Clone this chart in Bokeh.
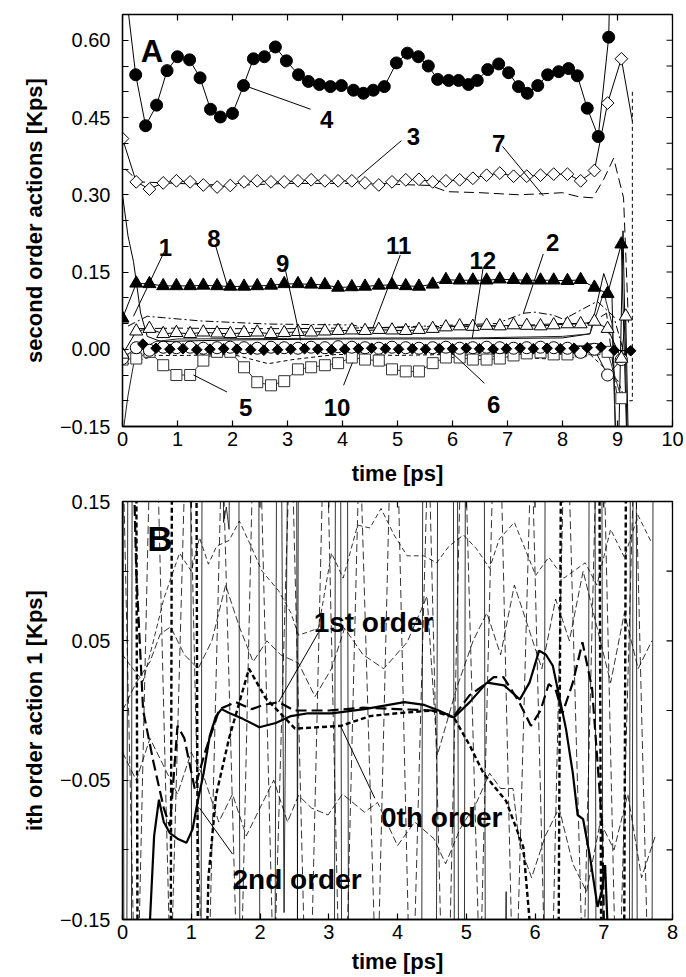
import numpy as np
from bokeh.plotting import figure
from bokeh.layouts import column
from bokeh.models import FixedTicker, CustomJSTickFormatter, Range1d
from bokeh.embed import file_html
from bokeh.resources import INLINE
from bokeh.core.properties import value

FONT = "Liberation Sans"

# ---------------- Panel A data ----------------
tA = [0.00, 0.25, 0.49, 0.74, 0.98, 1.23, 1.47, 1.72, 1.96, 2.21, 2.45, 2.70, 2.94,
      3.19, 3.43, 3.68, 3.92, 4.17, 4.41, 4.66, 4.90, 5.15, 5.39, 5.64, 5.88, 6.13,
      6.37, 6.62, 6.86, 7.11, 7.35, 7.60, 7.84, 8.09, 8.33, 8.58, 8.82, 9.07]

# series 4 (filled circles); first two and last entries are the off-scale line ends
s4_x = [0.00, 0.10, 0.24, 0.42, 0.62, 0.81, 1.00, 1.22, 1.41, 1.60, 1.78, 2.00, 2.20, 2.38,
        2.58, 2.78, 2.98, 3.20, 3.38, 3.58, 3.78, 3.98, 4.20, 4.38, 4.56, 4.76, 4.98,
        5.18, 5.38, 5.56, 5.73, 5.93, 6.11, 6.29, 6.45, 6.64, 6.84, 7.02, 7.20, 7.36,
        7.55, 7.73, 7.93, 8.11, 8.27, 8.45, 8.65, 8.84, 8.90]
s4_y = [1.20, 0.66, 0.533, 0.434, 0.474, 0.541, 0.568, 0.562, 0.527, 0.466, 0.451, 0.458,
        0.512, 0.564, 0.568, 0.587, 0.560, 0.533, 0.520, 0.514, 0.510, 0.512, 0.503,
        0.497, 0.503, 0.510, 0.556, 0.575, 0.568, 0.550, 0.524, 0.522, 0.522, 0.514,
        0.522, 0.543, 0.554, 0.537, 0.510, 0.497, 0.512, 0.533, 0.539, 0.545, 0.531,
        0.468, 0.413, 0.606, 0.90]

s3_y = [0.409, 0.325, 0.311, 0.323, 0.327, 0.325, 0.319, 0.315, 0.318, 0.325, 0.327,
        0.325, 0.325, 0.327, 0.329, 0.327, 0.327, 0.327, 0.323, 0.319, 0.325, 0.329,
        0.330, 0.325, 0.327, 0.329, 0.332, 0.338, 0.342, 0.336, 0.336, 0.338, 0.340,
        0.340, 0.327, 0.347, 0.478, 0.564]
s3_tail_x = [9.07, 9.27]
s3_tail_y = [0.564, 0.443]

s8_y = [0.060, 0.128, 0.127, 0.123, 0.123, 0.123, 0.124, 0.123, 0.122, 0.122, 0.123,
        0.124, 0.127, 0.127, 0.126, 0.125, 0.120, 0.121, 0.122, 0.124, 0.125, 0.123,
        0.122, 0.126, 0.135, 0.134, 0.134, 0.134, 0.136, 0.135, 0.134, 0.134, 0.134,
        0.133, 0.135, 0.120, 0.108, 0.204]
s8_tail_x = [9.07, 9.20]
s8_tail_y = [0.204, -0.30]

s9_y = [-0.010, 0.035, 0.040, 0.030, 0.032, 0.030, 0.033, 0.031, 0.030, 0.032, 0.033,
        0.030, 0.032, 0.034, 0.033, 0.035, 0.036, 0.037, 0.036, 0.038, 0.037, 0.036,
        0.038, 0.040, 0.043, 0.045, 0.044, 0.046, 0.045, 0.047, 0.046, 0.045, 0.047,
        0.049, 0.049, 0.054, 0.040, -0.018]
s9_tail_x = [9.07, 9.15, 9.22]
s9_tail_y = [-0.018, 0.064, -0.30]

sc_y = [-0.018, 0.003, -0.002, 0.004, 0.003, 0.004, 0.002, 0.003, 0.004, 0.003, 0.002,
        0.004, 0.003, 0.002, 0.004, 0.003, 0.005, 0.004, 0.003, 0.002, 0.004, 0.003,
        0.002, 0.003, 0.004, 0.002, 0.003, 0.004, 0.003, 0.002, 0.003, 0.004, 0.003,
        0.002, -0.006, 0.000, -0.050, -0.020]

s5_y = [-0.020, -0.018, -0.005, -0.031, -0.050, -0.050, -0.022, -0.005, -0.005, -0.035,
        -0.064, -0.070, -0.062, -0.039, -0.035, -0.031, -0.027, -0.016, -0.020, -0.022,
        -0.039, -0.043, -0.043, -0.027, -0.016, -0.016, -0.020, -0.020, -0.018, -0.012,
        -0.008, -0.006, -0.010, -0.010, -0.004, 0.000, -0.005, -0.095]

s6_x = [0.37, 0.61, 0.86, 1.10, 1.35, 1.59, 1.84, 2.08, 2.33, 2.57, 2.82, 3.06, 3.31,
        3.55, 3.80, 4.04, 4.29, 4.53, 4.78, 5.02, 5.27, 5.51, 5.76, 6.00, 6.25, 6.49,
        6.74, 6.98, 7.23, 7.47, 7.72, 7.96, 8.21, 8.45, 8.70, 8.94, 9.24]
s6_y = [0.010, 0.002, 0.000, 0.001, -0.001, 0.000, 0.001, 0.000, -0.001, -0.002, -0.001,
        0.000, 0.001, 0.000, -0.001, 0.000, 0.001, 0.002, 0.001, 0.000, 0.001, 0.000,
        0.001, 0.001, 0.002, 0.001, 0.000, 0.001, 0.002, 0.001, 0.002, 0.001, 0.002,
        0.003, 0.004, -0.002, -0.003]

s7_x = [0.05, 0.30, 1.00, 2.00, 3.00, 4.00, 5.00, 5.60, 5.90, 6.50, 7.20, 7.65, 8.00,
        8.30, 8.55, 8.75, 8.93, 9.11, 9.20]
s7_y = [0.350, 0.325, 0.322, 0.318, 0.322, 0.322, 0.320, 0.318, 0.306, 0.304, 0.300,
        0.302, 0.304, 0.296, 0.294, 0.330, 0.371, 0.294, 0.050]

s2_x = [0.10, 0.45, 1.42, 2.64, 4.20, 4.38, 5.50, 6.80, 7.30, 7.50, 7.84, 8.02, 8.63,
        8.93, 9.10]
s2_y = [0.045, 0.064, 0.055, 0.049, 0.047, 0.041, 0.045, 0.050, 0.070, 0.072, 0.066,
        0.058, 0.093, 0.064, 0.000]

s11_x = [0.30, 1.00, 2.00, 3.00, 4.00, 5.00, 6.00, 7.00, 8.00, 8.50, 8.80, 9.00]
s11_y = [0.040, 0.041, 0.040, 0.040, 0.041, 0.042, 0.045, 0.045, 0.050, 0.050, 0.070, -0.10]

s10_x = [0.05, 0.60, 1.20, 2.00, 2.65, 3.10, 3.90, 5.00, 6.00, 7.00, 8.00, 8.50, 9.00,
         9.15, 9.27, 9.27]
s10_y = [-0.030, -0.012, -0.012, -0.010, -0.028, -0.020, -0.010, -0.012, -0.010, -0.015,
         -0.020, -0.010, -0.060, -0.100, -0.100, 0.505]

s1_x = [0.00, 0.10, 0.20, 0.33, 0.45, 0.70, 2.00, 4.00, 6.00, 8.00, 8.50, 8.75, 8.90,
        9.00, 9.10, 9.20]
s1_y = [0.300, 0.220, 0.170, 0.070, 0.025, 0.015, 0.018, 0.020, 0.020, 0.022, 0.030,
        0.147, 0.100, -0.30, 0.230, -0.30]

s12_x = [0.00, 0.10, 0.20, 0.35, 0.60, 1.00, 3.00, 5.00, 6.36, 8.00, 8.50, 8.75, 8.90,
         9.00]
s12_y = [-0.170, -0.090, -0.030, 0.000, 0.015, 0.020, 0.021, 0.022, 0.022, 0.025,
         0.030, 0.110, 0.050, -0.30]

labA_text = ["4", "3", "7", "1", "8", "9", "5", "10", "11", "12", "2", "6"]
labA_x = [3.71, 5.29, 6.84, 0.78, 1.66, 2.91, 2.24, 3.90, 5.02, 6.55, 7.82, 6.75]
labA_y = [0.447, 0.413, 0.399, 0.198, 0.216, 0.166, -0.114, -0.114, 0.202, 0.173,
          0.208, -0.108]
leadA_x0 = [2.22, 5.07, 6.91, 0.78, 1.69, 2.95, 1.90, 4.02, 5.05, 6.56, 7.65, 6.58]
leadA_y0 = [0.512, 0.405, 0.394, 0.194, 0.202, 0.160, -0.083, -0.070, 0.183, 0.160,
            0.185, -0.066]
leadA_x1 = [3.42, 4.27, 7.65, 0.20, 1.91, 3.24, 1.29, 4.18, 4.55, 6.36, 7.29, 5.91]
leadA_y1 = [0.466, 0.332, 0.298, 0.064, 0.122, 0.017, -0.050, -0.026, 0.041, 0.022,
            0.070, 0.001]

# ---------------- Panel B data ----------------
b_sol_x = [0.37, 0.40, 0.46, 0.53, 0.60, 0.69, 0.80, 0.93, 1.02, 1.09, 1.18, 1.27, 1.36,
           1.44, 1.56, 1.75, 1.99, 2.23, 2.45, 2.70, 3.04, 3.52, 4.10, 4.39, 4.60, 4.82,
           5.05, 5.30, 5.55, 5.78, 5.92, 6.06, 6.16, 6.26, 6.45, 6.55, 6.62, 6.70, 6.80,
           6.91, 6.97, 7.02, 7.06]
b_sol_y = [-0.30, -0.150, -0.090, -0.064, -0.080, -0.088, -0.092, -0.095, -0.085, -0.066,
           -0.045, -0.018, -0.004, 0.001, -0.002, -0.006, -0.012, -0.009, -0.004, -0.002,
           -0.002, 0.001, 0.006, 0.004, 0.000, -0.005, 0.006, 0.020, 0.018, 0.008, 0.020,
           0.043, 0.040, 0.032, -0.013, -0.045, -0.075, -0.078, -0.105, -0.141, -0.130,
           -0.111, -0.160]
b_ld_x = [0.00, 0.10, 0.20, 0.30, 0.45, 0.60, 0.69, 0.80, 0.90, 1.05, 1.20, 1.41, 1.65,
          1.88, 2.05, 2.27, 2.50, 3.00, 3.50, 4.00, 4.50, 4.82, 5.05, 5.25, 5.40, 5.54,
          5.77, 5.94, 6.08, 6.20, 6.30, 6.40, 6.55, 6.69, 6.83, 6.98, 7.05]
b_ld_y = [0.200, 0.300, 0.100, 0.000, -0.037, -0.070, -0.083, -0.011, -0.020, -0.056,
          -0.030, 0.001, 0.006, 0.001, 0.004, 0.006, 0.000, 0.000, 0.002, 0.001, 0.000,
          -0.004, 0.011, 0.018, 0.024, 0.024, 0.006, -0.011, 0.000, 0.019, 0.015, -0.002,
          0.020, 0.049, 0.016, -0.085, -0.300]
b_sd_x = [0.18, 0.24, 0.68, 0.74, 1.05, 1.11, 1.25, 1.36, 1.55, 1.84, 2.08, 2.51, 3.18,
          3.60, 4.00, 4.50, 4.82, 5.05, 5.25, 5.58, 5.83, 5.92, 6.00, 6.32, 6.40, 6.92,
          6.98, 7.28, 7.34]
b_sd_y = [0.60, -0.60, -0.60, 0.60, 0.60, -0.40, -0.120, -0.061, -0.020, 0.030, 0.009,
          -0.013, -0.011, -0.004, -0.002, 0.000, -0.005, -0.025, -0.045, -0.065, -0.098,
          -0.150, -0.40, -0.40, 0.40, 0.40, -0.40, -0.40, 0.40]
b_t1_x = [0.00, 0.03, 0.12, 0.15, 0.98, 1.02, 1.13, 1.17, 1.97, 2.01, 2.20, 2.26, 2.30,
          2.35, 2.42, 2.46, 2.52, 2.56, 3.07, 3.11, 3.16, 3.20, 4.34, 4.38, 4.80, 4.84,
          4.96, 5.00, 5.25, 5.29, 6.76, 6.80, 6.96, 7.00, 7.40, 7.44, 7.46, 7.50, 7.69,
          7.73]
b_t1_y = [0.5, -0.5, -0.5, 0.5, 0.5, -0.5, -0.5, 0.5, 0.5, -0.5, -0.5, 0.5, 0.3, -0.145,
          0.3, 0.5, 0.5, -0.5, -0.5, 0.5, 0.5, -0.5, -0.5, 0.5, 0.5, -0.5, -0.5, 0.5, 0.5,
          -0.5, -0.5, 0.5, 0.5, -0.5, -0.5, 0.5, 0.5, -0.5, -0.5, 0.5]
b_t2_x = [0.05, 0.09, 1.42, 1.47, 1.51, 1.55, 1.60, 1.68, 1.72, 2.53, 2.57, 3.26, 3.30,
          4.55, 4.60, 4.86, 4.90, 5.50, 5.58, 5.63, 6.12, 6.16, 6.86, 6.90, 7.36, 7.40]
b_t2_y = [-0.5, 0.5, 0.5, 0.135, 0.146, 0.13, 0.5, 0.5, -0.5, -0.5, 0.5, 0.5, -0.5, -0.5,
          0.5, 0.5, -0.5, -0.5, -0.13, -0.5, -0.5, 0.5, 0.5, -0.5, -0.5, 0.5]
b_d1_x = [0.00, 0.15, 0.30, 0.45, 0.60, 0.69, 0.83, 1.00, 1.12, 1.25, 1.37, 1.55, 1.70,
          1.85, 2.03, 2.27, 2.45, 2.56, 2.85, 3.04, 3.21, 3.42, 3.60, 3.76, 3.95, 4.14,
          4.38, 4.57, 4.75, 4.96, 5.15, 5.34, 5.48, 5.70, 6.01, 6.20, 6.42, 6.73, 6.90,
          7.10, 7.30, 7.50, 7.70]
b_d1_y = [0.040, 0.030, 0.021, 0.050, 0.080, 0.093, 0.113, 0.100, 0.124, 0.105, 0.118,
          0.122, 0.136, 0.120, 0.100, 0.086, 0.070, 0.054, 0.059, 0.113, 0.095, 0.133,
          0.131, 0.145, 0.126, 0.111, 0.111, 0.106, 0.118, 0.126, 0.116, 0.102, 0.123,
          0.135, 0.097, 0.110, 0.095, 0.106, 0.090, 0.130, 0.110, 0.140, 0.120]
b_d2_x = [0.00, 0.20, 0.40, 0.55, 0.70, 0.90, 1.10, 1.30, 1.50, 1.70, 1.90, 2.10, 2.30,
          2.56, 2.80, 3.04, 3.23, 3.50, 3.80, 4.14, 4.43, 4.58, 4.86, 5.10, 5.30, 5.50,
          5.70, 5.90, 6.10, 6.30, 6.50, 6.70, 6.90, 7.10, 7.30, 7.50, 7.70]
b_d2_y = [0.000, 0.020, 0.035, 0.055, 0.060, 0.040, 0.030, 0.050, 0.090, 0.060, 0.035,
          0.050, 0.040, 0.034, 0.010, 0.030, 0.059, 0.040, 0.030, 0.049, 0.082, -0.032,
          0.016, 0.050, 0.070, 0.040, 0.090, 0.060, 0.030, 0.080, 0.050, 0.100, 0.060,
          0.020, 0.070, 0.030, 0.050]
b_d3_x = [0.00, 0.20, 0.40, 0.60, 0.80, 1.00, 1.20, 1.40, 1.60, 1.80, 2.00, 2.20, 2.40,
          2.56, 2.75, 2.99, 3.20, 3.52, 3.71, 4.00, 4.25, 4.53, 4.70, 4.91, 5.15, 5.34,
          5.50, 5.68, 5.77, 5.95, 6.15, 6.35, 6.55, 6.75, 6.95, 7.15, 7.35, 7.55, 7.75]
b_d3_y = [-0.030, -0.050, -0.020, -0.040, -0.060, -0.030, -0.050, -0.080, -0.060, -0.090,
          -0.070, -0.050, -0.080, -0.061, -0.070, -0.075, -0.060, -0.073, -0.066, -0.097,
          -0.080, -0.092, -0.110, -0.085, -0.066, -0.045, -0.056, -0.056, -0.095, -0.120,
          -0.090, -0.070, -0.110, -0.130, -0.080, -0.100, -0.060, -0.120, -0.090]
b_d4_x = [0.00, 0.20, 0.45, 0.70, 0.95, 1.20, 1.45, 1.70, 1.95, 2.20, 2.45, 2.70, 2.95,
          3.20, 3.45, 3.70, 3.95, 4.20, 4.45, 4.70, 4.95, 5.20, 5.45, 5.70, 5.95, 6.20,
          6.45, 6.70, 6.95, 7.20, 7.45, 7.70]
b_d4_y = [0.20, -0.25, 0.30, -0.20, 0.25, -0.30, 0.20, -0.25, 0.30, -0.20, 0.22, -0.28,
          0.25, -0.30, 0.20, -0.22, 0.30, -0.25, 0.20, -0.30, 0.25, -0.20, 0.30, -0.25,
          0.20, -0.30, 0.25, -0.20, 0.30, -0.25, 0.20, -0.30]

labB_text = ["1st order", "0th order", "2nd order"]
labB_x = [2.78, 3.76, 1.60]
labB_y = [0.063, -0.077, -0.121]
leadB_x0 = [2.85, 3.67, 1.60]
leadB_y0 = [0.056, -0.063, -0.103]
leadB_x1 = [2.27, 3.17, 1.12]
leadB_y1 = [0.006, -0.011, -0.070]

# tick positions
A_xticks = [0, 1, 2, 3, 4, 5, 6, 7, 8, 9, 10]
A_yticks = [-0.15, 0.0, 0.15, 0.30, 0.45, 0.60]
A_yminor = [-0.10, -0.05, 0.05, 0.10, 0.20, 0.25, 0.35, 0.40, 0.50, 0.55, 0.65]
B_xticks = [0, 1, 2, 3, 4, 5, 6, 7, 8]
B_yticks = [-0.15, -0.05, 0.05, 0.15]
B_yminor = [-0.10, 0.0, 0.10]

FMT2 = "return (tick < -1e-9 ? '\\u2212' : '') + Math.abs(tick).toFixed(2);"


def style(p, xticks, yticks, yminor, xlabel, ylabel, xlab_standoff, xr, yr):
    p.xgrid.visible = False
    p.ygrid.visible = False
    p.outline_line_color = "black"
    p.outline_line_width = 1.3
    p.xaxis.ticker = FixedTicker(ticks=xticks, minor_ticks=[])
    p.yaxis.ticker = FixedTicker(ticks=yticks, minor_ticks=yminor)
    for ax in p.below + p.left:
        ax.major_tick_in = 6
        ax.major_tick_out = 0
        ax.minor_tick_in = 6
        ax.minor_tick_out = 0
        ax.axis_line_width = 1.3
        ax.major_tick_line_width = 1.2
        ax.minor_tick_line_width = 1.2
        ax.major_label_text_font = FONT
        ax.major_label_text_font_size = "20px"
        ax.major_label_text_color = "black"
        ax.axis_label_text_font = FONT
        ax.axis_label_text_font_size = "22px"
        ax.axis_label_text_font_style = "bold"
        ax.axis_label_text_color = "black"
    p.left[0].formatter = CustomJSTickFormatter(code=FMT2)
    p.left[0].major_label_standoff = 12
    p.left[0].axis_label_standoff = 10
    p.left[0].axis_label = ylabel
    p.below[0].major_label_standoff = 5
    p.below[0].axis_label_standoff = xlab_standoff
    p.below[0].axis_label = xlabel
    # inward ticks on the right and top frame edges (half of each dash is clipped)
    yall = sorted(yticks + yminor)
    p.scatter([xr[1]] * len(yall), yall, marker="dash", size=12, line_color="black",
              line_width=1.2)
    p.scatter(xticks, [yr[1]] * len(xticks), marker="dash", angle=np.pi / 2, size=12,
              line_color="black", line_width=1.2)


# ---------------- Figure A ----------------
xrA, yrA = (0, 10), (-0.15, 0.65)
pA = figure(width=686, height=488, x_range=Range1d(*xrA), y_range=Range1d(*yrA),
            output_backend="svg", toolbar_location=None,
            min_border_left=122, min_border_top=14, min_border_right=14, min_border_bottom=56)

pA.line(s1_x, s1_y, line_color="black", line_width=1.0)
pA.line(s12_x, s12_y, line_color="#222222", line_width=1.0)
pA.line(s7_x, s7_y, line_color="black", line_width=1.0, line_dash="10 5")
pA.line(s2_x, s2_y, line_color="black", line_width=1.0, line_dash="8 3 2 3")
pA.line(s11_x, s11_y, line_color="black", line_width=1.0, line_dash="12 4")
pA.line(s10_x, s10_y, line_color="black", line_width=1.0, line_dash="4 3")
pA.line(s4_x, s4_y, line_color="black", line_width=1.0)
pA.line(tA, s3_y, line_color="black", line_width=1.0)
pA.line(s3_tail_x, s3_tail_y, line_color="black", line_width=1.0)
pA.line(tA, s8_y, line_color="black", line_width=1.0)
pA.line(s8_tail_x, s8_tail_y, line_color="black", line_width=1.0)
pA.line(tA, s9_y, line_color="black", line_width=1.0)
pA.line(s9_tail_x, s9_tail_y, line_color="black", line_width=1.0)
pA.line(tA, s5_y, line_color="#333333", line_width=1.0)
pA.line(tA, sc_y, line_color="black", line_width=1.0)
pA.line(s6_x, s6_y, line_color="black", line_width=1.0)

pA.scatter(tA, s5_y, marker="square", size=11, fill_color="white", line_color="#333333",
           line_width=1.0)
pA.scatter(tA, sc_y, marker="circle", size=12, fill_color="white", line_color="black",
           line_width=1.0)
pA.scatter(s6_x, s6_y, marker="square", angle=np.pi / 4, size=7.5, fill_color="black",
           line_color="black")
pA.scatter(tA + [9.15], s9_y + [0.064], marker="triangle", size=13, fill_color="white",
           line_color="black", line_width=1.0)
pA.scatter(tA, s8_y, marker="triangle", size=13, fill_color="black", line_color="black")
pA.scatter(tA, s3_y, marker="square", angle=np.pi / 4, size=9, fill_color="white",
           line_color="black", line_width=1.0)
pA.scatter(s4_x[2:-1], s4_y[2:-1], marker="circle", size=12, fill_color="black",
           line_color="black")

pA.segment(leadA_x0, leadA_y0, leadA_x1, leadA_y1, line_color="black", line_width=1.0)
pA.text(labA_x, labA_y, text=labA_text, text_font=value(FONT), text_font_style="bold",
        text_font_size="24px", text_align="center", text_baseline="alphabetic",
        text_color="black")
pA.text([0.33], [0.579], text=["A"], text_font=value(FONT), text_font_style="bold",
        text_font_size="31px", text_align="left", text_baseline="alphabetic",
        text_color="black")
style(pA, A_xticks, A_yticks, A_yminor, "time [ps]", "second order actions [Kps]", 12,
      xrA, yrA)

# ---------------- Figure B ----------------
xrB, yrB = (0, 8), (-0.15, 0.15)
pB = figure(width=686, height=489, x_range=Range1d(*xrB), y_range=Range1d(*yrB),
            output_backend="svg", toolbar_location=None,
            min_border_left=122, min_border_top=13, min_border_right=8, min_border_bottom=58)

thin = dict(line_color="black", line_width=0.8)
pB.line(b_t1_x, b_t1_y, **thin)
pB.line(b_t2_x, b_t2_y, **thin)
pB.line(b_d1_x, b_d1_y, line_dash="5 3", **thin)
pB.line(b_d2_x, b_d2_y, line_dash="7 3", **thin)
pB.line(b_d3_x, b_d3_y, line_dash="7 3", **thin)
pB.line(b_d4_x, b_d4_y, line_dash="8 4", **thin)
pB.line(b_sd_x, b_sd_y, line_color="black", line_width=2.4, line_dash="5 3")
pB.line(b_ld_x, b_ld_y, line_color="black", line_width=2.2, line_dash="11 5")
pB.line(b_sol_x, b_sol_y, line_color="black", line_width=2.2)

pB.segment(leadB_x0, leadB_y0, leadB_x1, leadB_y1, line_color="black", line_width=1.0)
pB.text(labB_x, labB_y, text=labB_text, text_font=value(FONT), text_font_style="bold",
        text_font_size="28px", text_align="left", text_baseline="alphabetic",
        text_color="black")
pB.text([0.36], [0.1234], text=["B"], text_font=value(FONT), text_font_style="bold",
        text_font_size="35px", text_align="left", text_baseline="alphabetic",
        text_color="black")
style(pB, B_xticks, B_yticks, B_yminor, "time [ps]", "ith order action 1 [Kps]", 7,
      xrB, yrB)

layout = column(pA, pB, spacing=0)
open("out.html", "w").write(file_html(layout, INLINE))
